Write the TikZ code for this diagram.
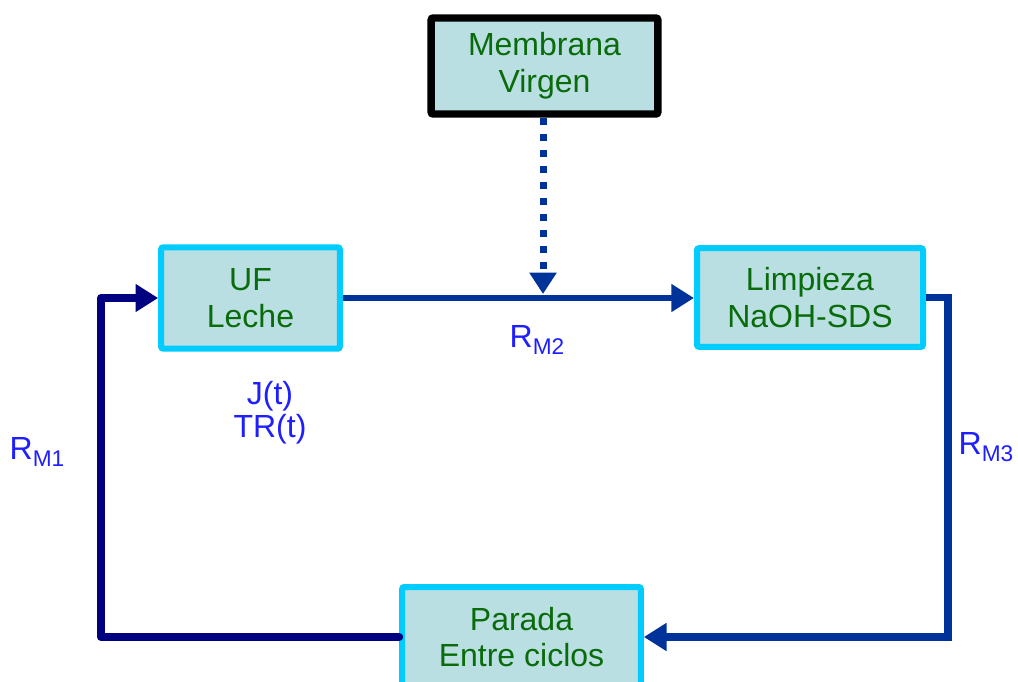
\documentclass[tikz,border=0pt]{standalone}
\usepackage{fontspec}
\setmainfont{Liberation Sans}
\usetikzlibrary{arrows.meta}
\definecolor{boxfill}{HTML}{B9DFE3}
\definecolor{boxcyan}{HTML}{00CCFF}
\definecolor{boxtext}{HTML}{0A6B0A}
\definecolor{labelblue}{HTML}{1E1EFF}
\definecolor{flowblue}{HTML}{003399}
\definecolor{loopnavy}{HTML}{000080}
\newcommand{\rsub}[1]{R\raisebox{-0.22em}{\fontsize{17}{17}\selectfont #1}}
\begin{document}
\begin{tikzpicture}[x=0.75pt,y=-0.75pt,
  stage/.style={rectangle, rounded corners=1.5pt, fill=boxfill, draw=boxcyan,
    line width=4.5pt, align=center, text=boxtext, inner sep=0pt,
    font=\fontsize{24}{27.5}\selectfont},
  lbl/.style={text=labelblue, align=center, inner sep=0pt,
    font=\fontsize{24}{25}\selectfont},
  flow/.style={line width=5pt, draw=flowblue, line join=miter,
    -{Triangle[length=17pt,width=20pt]}},
  loop/.style={line width=6pt, draw=loopnavy, line join=round, line cap=round,
    -{Triangle[length=17pt,width=20pt]}}]
\useasboundingbox (0,0) rectangle (1018,682);

% process stages
\node[stage, draw=black, line width=5.6pt, minimum width=170pt, minimum height=72pt]
  (mem) at (544.5,66) {Membrana\\Virgen};
\node[stage, minimum width=134pt, minimum height=76pt]
  (uf) at (250.5,298) {UF\\Leche};
\node[stage, minimum width=169.5pt, minimum height=74pt]
  (limp) at (810,297.5) {Limpieza\\NaOH-SDS};
\node[stage, minimum width=179pt, minimum height=75pt]
  (par) at (521.5,637) {Parada\\Entre ciclos};

% turning points of the loop
\coordinate (rx) at (948,466);
\coordinate (lx) at (101,466);
\coordinate (hit) at (543,294);

% connectors
\draw[flow] (uf.east) -- (uf.east -| limp.west);
\draw[flow, line width=5.25pt, dash pattern=on 5.25pt off 6.75pt,
  -{Triangle[length=16pt,width=19.5pt]}] (mem.south -| hit) -- (hit);
\draw[flow, line width=5.5pt] (limp.east) -| (rx) |- (par.east);
\draw[loop] (par.west) -| (lx) |- (uf.west);

% labels
\node[lbl] (rm2) at (537,340) {\rsub{M2}};
\node[lbl] (jt) at (270,413) {J(t)\\TR(t)};
\node[lbl] (rm1) at (37,452) {\rsub{M1}};
\node[lbl] (rm3) at (986,447) {\rsub{M3}};
\end{tikzpicture}
\end{document}
